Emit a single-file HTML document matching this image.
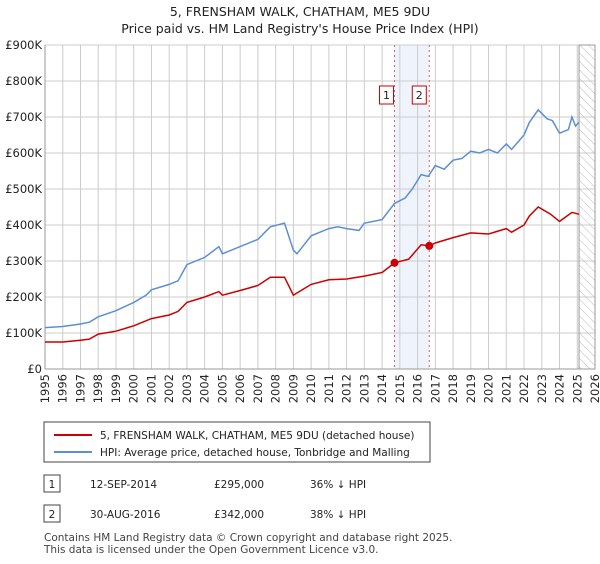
<!DOCTYPE html>
<html><head><meta charset="utf-8"><style>
body{margin:0;background:#fff;font-family:"DejaVu Sans","Liberation Sans",sans-serif;}
</style></head><body>
<svg width="600" height="560" viewBox="0 0 600 560" xmlns="http://www.w3.org/2000/svg" font-family="DejaVu Sans, Liberation Sans, sans-serif">
<defs><pattern id="hatch" width="6" height="6" patternUnits="userSpaceOnUse" patternTransform="rotate(-45)"><line x1="0" y1="0" x2="0" y2="6" stroke="#bbb" stroke-width="1"/></pattern></defs>
<text x="300" y="16" text-anchor="middle" font-size="12.5" fill="#222">5, FRENSHAM WALK, CHATHAM, ME5 9DU</text>
<text x="300" y="33" text-anchor="middle" font-size="12.5" fill="#222">Price paid vs. HM Land Registry's House Price Index (HPI)</text>
<g id="plot"></g>
<g>
<rect x="44" y="422" width="386" height="40" fill="#fff" stroke="#444"/>
<line x1="54" y1="435" x2="92" y2="435" stroke="#cc0000" stroke-width="2"/>
<text x="100" y="439" font-size="10.5" fill="#222">5, FRENSHAM WALK, CHATHAM, ME5 9DU (detached house)</text>
<line x1="54" y1="452" x2="92" y2="452" stroke="#5b8fd4" stroke-width="2"/>
<text x="100" y="456" font-size="10.5" fill="#222">HPI: Average price, detached house, Tonbridge and Malling</text>
</g>
<g font-size="10.5" fill="#222">
<rect x="44" y="475" width="16" height="17" fill="#fff" stroke="#444"/><text x="52" y="488" text-anchor="middle">1</text>
<text x="90" y="488">12-SEP-2014</text><text x="214" y="488">£295,000</text><text x="310" y="488">36% ↓ HPI</text>
<rect x="44" y="505" width="16" height="17" fill="#fff" stroke="#444"/><text x="52" y="518" text-anchor="middle">2</text>
<text x="90" y="518">30-AUG-2016</text><text x="214" y="518">£342,000</text><text x="310" y="518">38% ↓ HPI</text>
</g>
<text x="44" y="541" font-size="10.5" fill="#444">Contains HM Land Registry data © Crown copyright and database right 2025.</text>
<text x="44" y="553" font-size="10.5" fill="#444">This data is licensed under the Open Government Licence v3.0.</text>
</svg>
<script>
const yTicks=[0,100,200,300,400,500,600,700,800,900];
const yTickLabels=["£0","£100K","£200K","£300K","£400K","£500K","£600K","£700K","£800K","£900K"];
const years=[1995,1996,1997,1998,1999,2000,2001,2002,2003,2004,2005,2006,2007,2008,2009,2010,2011,2012,2013,2014,2015,2016,2017,2018,2019,2020,2021,2022,2023,2024,2025,2026];
const hpiDates=[1995,1996,1997,1997.5,1998,1999,2000,2000.7,2001,2002,2002.5,2003,2004,2004.8,2005,2006,2007,2007.7,2008.5,2009,2009.2,2010,2011,2011.5,2012,2012.7,2013,2014,2014.7,2015.3,2015.7,2016.2,2016.6,2017,2017.5,2018,2018.5,2019,2019.5,2020,2020.5,2021,2021.3,2022,2022.3,2022.8,2023.3,2023.6,2024,2024.5,2024.7,2024.9,2025.1];
const hpiValues=[115,118,125,130,145,162,185,205,220,235,245,290,310,340,320,340,360,395,405,330,320,370,390,395,390,385,405,415,460,475,500,540,535,565,555,580,585,605,600,610,600,625,610,650,685,720,695,690,655,665,700,675,685];
const priceDates=[1995,1996,1997,1997.5,1998,1999,2000,2001,2002,2002.5,2003,2004,2004.8,2005,2006,2007,2007.7,2008.5,2009,2010,2011,2012,2013,2014,2014.7,2015.5,2016.2,2016.66,2017,2018,2019,2020,2021,2021.3,2022,2022.3,2022.8,2023.5,2024,2024.7,2025.1];
const priceValues=[75,75,80,83,97,105,120,140,150,160,185,200,215,205,218,232,255,255,205,235,248,250,258,268,295,305,345,342,350,365,378,375,390,380,400,425,450,430,410,435,430];
const saleDates=[2014.7,2016.66];
const saleValues=[295,342];
const saleLabels=["1","2"];
const NS="http://www.w3.org/2000/svg";
const L=45,R=595,T=45,B=369;
const x=d=>L+(d-1995)/31*(R-L);
const y=v=>B-v/900*(B-T);
const g=document.getElementById('plot');
function mk(t,a){const e=document.createElementNS(NS,t);for(const k in a)e.setAttribute(k,a[k]);g.appendChild(e);return e;}
let r=mk('rect',{x:x(saleDates[0]),y:T,width:x(saleDates[1])-x(saleDates[0]),height:B-T,fill:'#eef3fc'});


years.forEach(yr=>{const l=mk('line',{x1:x(yr),x2:x(yr),y1:T,y2:B,stroke:'#ccc'});


const t=mk('text',{x:0,y:0,'font-size':11.5,fill:'#222','text-anchor':'end',transform:`translate(${x(yr)+4},${B+5}) rotate(-90)`});t.textContent=yr;

});
yTicks.forEach((v,i)=>{const l=mk('line',{x1:L,x2:R,y1:y(v),y2:y(v),stroke:'#ccc'});


const t=mk('text',{x:L-3,y:y(v)+4,'font-size':11.5,fill:'#222','text-anchor':'end'});t.textContent=yTickLabels[i];

});
let h=mk('rect',{x:x(2025.1),y:T,width:R-x(2025.1),height:B-T,fill:'url(#hatch)',stroke:'#999'});


mk('line',{x1:L,x2:L,y1:T,y2:B,stroke:'#999'});
mk('line',{x1:L,x2:R,y1:B,y2:B,stroke:'#999'});
saleDates.forEach((d,i)=>{const l=mk('line',{x1:x(d),x2:x(d),y1:T,y2:B,stroke:'#e06060','stroke-dasharray':'2,3'});


const bx=mk('rect',{x:x(d)-15+i*(-2),y:86,width:14,height:18,fill:'#fff',stroke:'#cc0000'});


const t=mk('text',{x:x(d)-8+i*(-2),y:99,'font-size':11,fill:'#222','text-anchor':'middle'});t.textContent=saleLabels[i];});
function line(ds,vs,c,name){const p=mk('polyline',{points:ds.map((d,i)=>x(d)+','+y(vs[i])).join(' '),fill:'none',stroke:c,'stroke-width':1.5});

}
line(hpiDates,hpiValues,'#5b8fd4','hpi-line');
line(priceDates,priceValues,'#cc0000','price-line');
saleDates.forEach((d,i)=>{const c=mk('circle',{cx:x(d),cy:y(saleValues[i]),r:4,fill:'#cc0000'});

});
</script>
</body></html>
